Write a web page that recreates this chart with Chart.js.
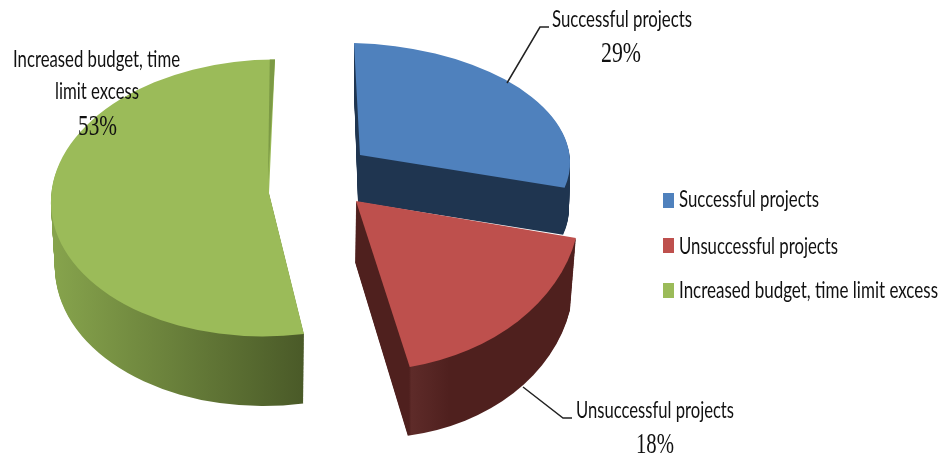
<!DOCTYPE html>
<html>
<head>
<meta charset="utf-8">
<style>
    html, body { margin: 0; padding: 0; background: #ffffff; }
    canvas { display: block; }
</style>
</head>
<body>
<canvas id="chart" width="943" height="457"></canvas>
<script src="https://cdn.jsdelivr.net/npm/chart.js@4/dist/chart.umd.min.js"></script>
<script>
const categories = ["Successful projects", "Unsuccessful projects", "Increased budget, time limit excess"];
const percents = [29, 18, 53];
const topColors = ["#4f81bd", "#be504d", "#9bbb59"];

// Each wedge is tilted on its own: [a, b, c, d, e, f] for the unit circle,
// top face and bottom face, plus the tip of the wedge on the top face.
// wallShare is how much of the sweep has a wall that can be seen.
const wedges = [
    { top: [211, 5, 5, 112, 359, 155], bottom: [212, 5, 3, 112, 357, 202], tip: [360, 155], wallShare: 1,
      wall: [[0, "#1f3550"], [1, "#1f3550"]], wallFrom: 350, wallTo: 570 },
    { top: [224, -5.5, 12, 170, 356, 201], bottom: [219, 4, 12, 176, 355, 262], tip: [356, 201], wallShare: 1,
      wall: [[0, "#4f201e"], [0.24, "#4f201e"], [0.25, "#5e2b29"], [0.42, "#4f201e"], [1, "#4f201e"]], wallFrom: 355, wallTo: 580 },
    { top: [218, 0, -6, 138.5, 269, 198], bottom: [214, 0, -6, 143, 269, 263], tip: [269, 193], wallShare: 0.6,
      wall: [[0, "#86a34c"], [1, "#4a5a28"]], wallFrom: 55, wallTo: 303 }
];

// text, x, baseline, width on the page
const sansLabels = [
    ["Successful projects", 552, 27, 140],
    ["Unsuccessful projects", 576, 418, 158],
    ["Increased budget, time", 13, 67, 167],
    ["limit excess", 55, 99, 84]
];
const percentLabels = [
    [601, 62, 40],
    [636, 453, 38],
    [78, 135, 39]
];
const leaders = [
    [[507, 83], [540, 27], [549, 27]],
    [[523, 387], [563, 418], [572, 418]]
];
const legendRows = [
    [207, 193, 140],
    [254, 238, 159],
    [298, 283, 259]
];

// Text is condensed sideways to the width it has on the page
function fitText(ctx, text, x, y, width, font) {
    ctx.save();
    ctx.font = font;
    ctx.fillStyle = "#111111";
    ctx.textBaseline = "alphabetic";
    const scale = width / ctx.measureText(text).width;
    ctx.translate(x, y);
    ctx.scale(scale, 1);
    ctx.fillText(text, 0, 0);
    ctx.restore();
}

function traceWedge(ctx, m, tip, start, end) {
    ctx.save();
    ctx.beginPath();
    ctx.moveTo(tip[0], tip[1]);
    ctx.transform(m[0], m[1], m[2], m[3], m[4], m[5]);
    ctx.arc(0, 0, 1, start, end);
    ctx.restore();
    ctx.closePath();
}

const solidPie = {
    id: "solidPie",
    // The flat arcs are replaced by the extruded wedges below
    beforeDatasetsDraw(chart) {
        const ctx = chart.ctx;
        const arcs = chart.getDatasetMeta(0).data;
        const order = [2, 0, 1];
        order.forEach(i => {
            const arc = arcs[i];
            const w = wedges[i];
            const grad = ctx.createLinearGradient(w.wallFrom, 0, w.wallTo, 0);
            w.wall.forEach(stop => grad.addColorStop(stop[0], stop[1]));
            const wallEnd = arc.startAngle + (arc.endAngle - arc.startAngle) * w.wallShare;

            // walls: stacked slices from the bottom face up to the top face
            const steps = Math.ceil(w.bottom[5] - w.top[5]);
            for (let s = steps; s > 0; s--) {
                const t = s / steps;
                const m = w.top.map((v, k) => v + (w.bottom[k] - v) * t);
                const tipY = w.tip[1] + (w.bottom[5] - w.top[5]) * t;
                const tipX = w.tip[0] + (w.bottom[4] - w.top[4]) * t;
                ctx.fillStyle = grad;
                traceWedge(ctx, m, [tipX, tipY], arc.startAngle, wallEnd);
                ctx.fill();
            }

            ctx.fillStyle = topColors[i];
            traceWedge(ctx, w.top, w.tip, arc.startAngle, arc.endAngle);
            ctx.fill();
        });

        // thin cut face showing along the back edge of the green wedge
        const big = arcs[2];
        ctx.fillStyle = "#7c9a45";
        traceWedge(ctx, wedges[2].top, [268, 180], big.endAngle - 0.024, big.endAngle);
        ctx.fill();
        return false;
    },
    // afterDatasetsDraw is skipped once the datasets are cancelled above
    afterDraw(chart) {
        const ctx = chart.ctx;

        ctx.strokeStyle = "#222222";
        ctx.lineWidth = 1.5;
        leaders.forEach(line => {
            ctx.beginPath();
            line.forEach((p, i) => i ? ctx.lineTo(p[0], p[1]) : ctx.moveTo(p[0], p[1]));
            ctx.stroke();
        });

        sansLabels.forEach(l => fitText(ctx, l[0], l[1], l[2], l[3], "24px Lato"));
        percentLabels.forEach((l, i) => {
            fitText(ctx, percents[i] + "%", l[0], l[1], l[2], "29px 'Liberation Serif'");
        });

        // legend
        legendRows.forEach((row, i) => {
            ctx.fillStyle = topColors[i];
            ctx.fillRect(663, row[1], 11, 15);
            fitText(ctx, categories[i], 679, row[0], row[2], "23px Lato");
        });
    }
};

new Chart("chart", {
    type: "pie",
    data: {
        labels: categories,
        datasets: [{
            data: percents,
            backgroundColor: topColors
        }]
    },
    options: {
        responsive: false,
        animation: false,
        plugins: {
            legend: { display: false },
            tooltip: { enabled: false }
        }
    },
    plugins: [solidPie]
});
</script>
</body>
</html>
